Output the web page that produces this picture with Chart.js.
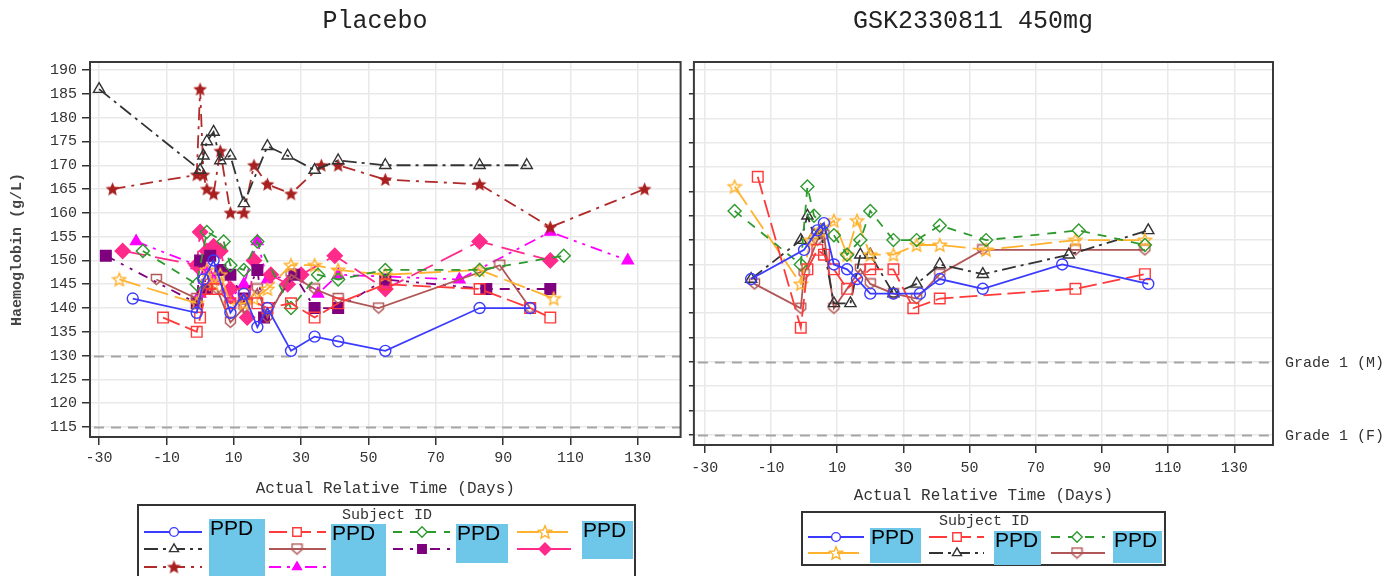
<!DOCTYPE html>
<html><head><meta charset="utf-8">
<script src="https://cdn.jsdelivr.net/npm/chart.js@4.4.1/dist/chart.umd.min.js"></script>
<style>
html,body{margin:0;padding:0;background:#fff;width:1393px;height:576px;overflow:hidden;}
canvas{position:absolute;top:0;}
#c1{left:0;} #c2{left:685px;}
</style></head><body>
<canvas id="c1" width="690" height="576"></canvas>
<canvas id="c2" width="708" height="576"></canvas>
<script>
// ---------- DATA ----------
const panelTitles = ['Placebo', 'GSK2330811 450mg'];
const xTickValues = [-30, -10, 10, 30, 50, 70, 90, 110, 130];
const yTickValues = [115,120,125,130,135,140,145,150,155,160,165,170,175,180,185,190];
const gradeValues = [130, 115];
const gradeLabels = ['Grade 1 (M)', 'Grade 1 (F)'];
const xTitle = 'Actual Relative Time (Days)';
const yTitle = 'Haemoglobin (g/L)';
const legendTitle = 'Subject ID';
const redactedLabel = 'PPD';

// Placebo subjects
const pBlueT   = [-20,-1,1,4,9,13,17,20,27,34,41,55,83,98];
const pBlueV   = [142,139,146,150,139,143,136,140,131,134,133,131,140,140];
const pRedT    = [-11,-1,0,2,5,9,13,17,20,27,34,41,55,83,98,104];
const pRedV    = [138,135,138,144,144,141,143,141,140,141,138,141,145,144,140,138];
const pGreenT  = [-17,-1,2,7,9,13,17,27,35,41,55,83,108];
const pGreenV  = [152,145,156,154,149,148,154,140,147,146,148,148,151];
const pOrangeT = [-24,-1,2,4,6,9,13,16,20,27,34,41,55,83,105];
const pOrangeV = [146,141,148,145,147,141,141,142,144,149,149,148,147,148,142];
const pBlackT  = [-30,0,1,2,4,6,9,13,20,26,34,41,55,83,97];
const pBlackV  = [186,169,172,175,177,171,172,162,174,172,169,171,170,170,170];
const pBrownT  = [-13,-1,2,5,9,13,17,20,27,34,41,53,89,98];
const pBrownV  = [146,142,145,144,137,140,144,138,147,144,142,140,149,140];
const pPurpleT = [-28,-1,0,2,3,6,9,13,17,19,28,34,41,55,85,104];
const pPurpleV = [151,141,150,144,151,148,147,142,148,138,147,140,140,146,144,144];
const pPinkT   = [-23,-1,0,2,4,6,9,14,16,21,26,30,40,55,83,104];
const pPinkV   = [152,149,156,152,153,152,144,138,150,147,145,147,151,144,154,150];
const pDarkRedT= [-26,-1,0,1,2,4,6,9,13,16,20,27,36,41,55,83,104,132];
const pDarkRedV= [165,168,186,168,165,164,173,160,160,170,166,164,170,170,167,166,157,165];
const pMagentaT= [-19,-1,0,2,4,9,13,17,20,28,35,41,77,104,127];
const pMagentaV= [154,149,143,148,146,142,145,154,146,147,143,147,146,156,150];

// GSK2330811 450mg subjects
const aBlueT   = [-16,0,4,6,9,13,16,20,27,35,41,54,78,104];
const aBlueV   = [147,153,157,158.5,150,149,147,144,144,144,147,145,150,146];
const aRedT    = [-14,-1,1,4,6,9,13,20,27,33,41,82,103];
const aRedV    = [168,137,149,153,152,149,145,149,149,141,143,145,148];
const aGreenT  = [-21,-1,1,3,9,13,17,20,27,34,41,55,83,103];
const aGreenV  = [161,150,166,160,156,152,155,161,155,155,158,155,157,154];
const aOrangeT = [-21,-1,2,5,9,13,16,20,27,34,41,55,82,103];
const aOrangeV = [166,146,155,157,159,152,159,152,152,154,154,153,155,155];
const aBlackT  = [-16,-1,1,3,5,9,14,17,20,27,34,41,54,80,104];
const aBlackV  = [147,155,160,156,157,142,142,152,152,144,146,150,148,152,157];
const aBrownT  = [-15,-1,0,4,6,9,17,20,27,34,41,54,82,103];
const aBrownV  = [146,141,148,155,156,141,149,146,144,143,148,153,153,153];

// ---------- STYLES ----------
const MONO = '"Liberation Mono", "DejaVu Sans Mono", monospace';
function pts(t, v){ return t.map((x,i)=>({x:x, y:v[i]})); }

function starCanvas(color, filled, size){
  const c = document.createElement('canvas'); c.width = c.height = size;
  const g = c.getContext('2d'); const cx=size/2, cy=size/2+0.5, R=size/2-1.2, r=R*0.45;
  g.beginPath();
  for(let i=0;i<10;i++){ const a=-Math.PI/2+i*Math.PI/5; const rr=i%2?r:R; g.lineTo(cx+rr*Math.cos(a), cy+rr*Math.sin(a)); }
  g.closePath();
  if(filled){ g.fillStyle=color; g.fill(); } else { g.strokeStyle=color; g.lineWidth=1.4; g.stroke(); }
  return c;
}
function shieldCanvas(color, size){
  const c = document.createElement('canvas'); c.width = c.height = size;
  const g = c.getContext('2d'); const m=1.5, s=size;
  g.beginPath(); g.moveTo(m,m); g.lineTo(s-m,m); g.lineTo(s-m,s*0.55); g.lineTo(s/2,s-m); g.lineTo(m,s*0.55); g.closePath();
  g.strokeStyle=color; g.lineWidth=1.4; g.stroke();
  return c;
}

const ST = {
  blue:    {color:'#3b3bff', dash:[], style:'circle', r:5.5, fill:false},
  red:     {color:'#ff3a3a', dash:[18,6], style:'rect', r:7.5, fill:false},
  green:   {color:'#2e9a2e', dash:[9,8], style:'rectRot', r:6.5, fill:false},
  orange:  {color:'#ffb22e', dash:[22,7], style:starCanvas('#ffb22e', false, 16), r:7, fill:false},
  black:   {color:'#333333', dash:[14,5,3,5], style:'triangle', r:6.5, fill:false},
  brown:   {color:'#b05656', dash:[], style:shieldCanvas('#b05656', 13), r:6.5, fill:false},
  purple:  {color:'#7f007f', dash:[10,7,3,7,3,7], style:'rect', r:7.5, fill:true},
  pink:    {color:'#ff2a8a', dash:[24,9], style:'rectRot', r:7.5, fill:true},
  darkred: {color:'#b02a2a', dash:[13,6,3,6], style:starCanvas('#a82020', true, 17), r:8, fill:true},
  magenta: {color:'#ff00ff', dash:[12,6,3,6,3,6], style:'triangle', r:6.5, fill:true}
};

function ds(key, t, v){
  const s = ST[key];
  return {
    label: key, data: pts(t, v), showLine: true,
    borderColor: s.color, backgroundColor: s.color, borderWidth: 1.8, borderDash: s.dash,
    pointStyle: s.style, pointRadius: s.r, pointHoverRadius: s.r,
    pointBorderColor: s.color, pointBackgroundColor: s.fill ? s.color : 'rgba(255,255,255,0)',
    pointBorderWidth: 1.4, tension: 0, _key: key
  };
}

const placeboSets = [
  ds('blue', pBlueT, pBlueV), ds('red', pRedT, pRedV), ds('green', pGreenT, pGreenV), ds('orange', pOrangeT, pOrangeV),
  ds('black', pBlackT, pBlackV), ds('brown', pBrownT, pBrownV), ds('purple', pPurpleT, pPurpleV), ds('pink', pPinkT, pPinkV),
  ds('darkred', pDarkRedT, pDarkRedV), ds('magenta', pMagentaT, pMagentaV)
];
const activeSets = [
  ds('blue', aBlueT, aBlueV), ds('red', aRedT, aRedV), ds('green', aGreenT, aGreenV),
  ds('orange', aOrangeT, aOrangeV), ds('black', aBlackT, aBlackV), ds('brown', aBrownT, aBrownV)
];

// ---------- PLUGINS ----------
function framePlugin(opts){
  return {
    id: 'frame'+opts.id,
    beforeDatasetsDraw(chart){
      const {ctx, chartArea:a, scales:{y}} = chart;
      ctx.save(); ctx.strokeStyle='#a6a6a6'; ctx.lineWidth=2; ctx.setLineDash([10,7]);
      gradeValues.forEach(v=>{ const py=Math.round(y.getPixelForValue(v))+0.5; ctx.beginPath(); ctx.moveTo(a.left+4,py); ctx.lineTo(a.right,py); ctx.stroke(); });
      ctx.restore();
    },
    afterDraw(chart){
      const {ctx, chartArea:a, scales:{y}} = chart;
      ctx.save();
      ctx.strokeStyle='#3a3a3a'; ctx.lineWidth=2; ctx.setLineDash([]);
      ctx.strokeRect(a.left, a.top, a.right-a.left, a.bottom-a.top);
      // panel title
      ctx.fillStyle='#222'; ctx.font='25px '+MONO; ctx.textAlign='center'; ctx.textBaseline='middle';
      ctx.fillText(opts.title, opts.titleX, 21);
      // grade labels
      if(opts.grades){
        ctx.font='15px '+MONO; ctx.textAlign='left'; ctx.fillStyle='#333';
        gradeValues.forEach((v,i)=>ctx.fillText(gradeLabels[i], 600, y.getPixelForValue(v)+1));
      }
      // legend
      const L = opts.legend;
      ctx.strokeStyle='#333'; ctx.lineWidth=2;
      ctx.strokeRect(L.box[0], L.box[1], L.box[2]-L.box[0], L.box[3]-L.box[1]);
      ctx.fillStyle='#333'; ctx.font='15px '+MONO; ctx.textAlign='center'; ctx.textBaseline='middle';
      ctx.fillText(legendTitle, L.titleX, L.titleY);
      L.entries.forEach(e=>{
        const d = chart.data.datasets[e.i]; const s = ST[d._key];
        const x0 = L.cols[e.c][0], x1 = L.cols[e.c][1], mx = L.cols[e.c][2], yy = L.rows[e.r];
        ctx.save(); ctx.strokeStyle=s.color; ctx.lineWidth=1.8; ctx.setLineDash(s.dash);
        ctx.beginPath(); ctx.moveTo(x0,yy); ctx.lineTo(x1,yy); ctx.stroke(); ctx.restore();
        ctx.save(); ctx.strokeStyle=s.color; ctx.fillStyle=s.fill? s.color : '#ffffff'; ctx.lineWidth=1.4; ctx.setLineDash([]);
        Chart.helpers.drawPoint(ctx, {pointStyle:s.style, radius:s.r*0.8, rotation:0, borderWidth:1.4}, mx, yy);
        ctx.restore();
      });
      L.boxes.forEach(b=>{
        ctx.fillStyle='#6ec6e9'; ctx.fillRect(b[0], b[1], b[2]-b[0], b[3]-b[1]);
        ctx.fillStyle='#000'; ctx.font='21px "Liberation Sans", Arial, sans-serif'; ctx.textAlign='left'; ctx.textBaseline='top';
        ctx.fillText(redactedLabel, b[0]+1, b[1]+0);
      });
      ctx.restore();
    }
  };
}

function scaleOpts(xmin, xmax, ymin, ymax, yWidth, xHeight, showY, xPad, xTitlePad){
  const font = {family: MONO, size: 15};
  return {
    x: {
      type:'linear', position:'bottom', min:xmin, max:xmax,
      afterBuildTicks: s => { s.ticks = xTickValues.map(v=>({value:v})); },
      afterFit: s => { s.height = xHeight; },
      grid: {color:'#e9e9e9', lineWidth:1.5, tickColor:'#333', tickLength:8, drawTicks:true},
      border: {display:false},
      ticks: {font, color:'#333', padding:xPad, maxRotation:0, autoSkip:false, callback: v => String(v)},
      title: {display:true, text:xTitle, font:{family:MONO, size:16}, color:'#333', padding:{top:0, bottom:xTitlePad}}
    },
    y: {
      type:'linear', min:ymin, max:ymax,
      afterBuildTicks: s => { s.ticks = yTickValues.map(v=>({value:v})); },
      afterFit: s => { s.width = yWidth; },
      grid: {color:'#e9e9e9', lineWidth:1.5, tickColor:'#333', tickLength: showY ? 8 : 5, drawTicks:true},
      border: {display:false},
      ticks: {display:showY, font, color:'#333', padding:5, autoSkip:false, callback: v => String(v)},
      title: {display:showY, text:yTitle, font:{family:MONO, size:15, weight:'bold'}, color:'#444', padding:{top:8, bottom:0}}
    }
  };
}

const common = {
  responsive:false, animation:false, devicePixelRatio:1,
  plugins:{legend:{display:false}, title:{display:false}, tooltip:{enabled:false}},
  events: []
};

new Chart(document.getElementById('c1'), {
  type:'scatter',
  data:{datasets: placeboSets},
  options: Object.assign({}, common, {
    layout:{padding:{top:62, right:5, bottom:76, left:0}},
    scales: scaleOpts(-32.7, 142.7, 112.9, 191.7, 90, 63, true, 4, 2)
  }),
  plugins:[framePlugin({id:1, title:panelTitles[0], titleX:375, grades:false, legend:{
    box:[138, 505, 635, 590], titleX:387, titleY:515,
    cols:[[144,202,174],[269,326,297],[393,450,422],[517,571,545]], rows:[532,549,567],
    entries:[{i:0,c:0,r:0},{i:1,c:1,r:0},{i:2,c:2,r:0},{i:3,c:3,r:0},{i:4,c:0,r:1},{i:5,c:1,r:1},{i:6,c:2,r:1},{i:7,c:3,r:1},{i:8,c:0,r:2},{i:9,c:1,r:2}],
    boxes:[[209,519,265,576],[331,524,386,576],[456,524,508,563],[582,521,633,559]]
  }})]
});

const o = 685;
new Chart(document.getElementById('c2'), {
  type:'scatter',
  data:{datasets: activeSets},
  options: Object.assign({}, common, {
    layout:{padding:{top:62, right:120, bottom:71, left:0}},
    scales: scaleOpts(-33.3, 141.7, 112.9, 191.6, 7, 60, false, 6, 0)
  }),
  plugins:[framePlugin({id:2, title:panelTitles[1], titleX:973-o, grades:true, legend:{
    box:[802-o, 512, 1165-o, 565], titleX:984-o, titleY:521,
    cols:[[808-o,864-o,836-o],[929-o,984-o,957-o],[1051-o,1105-o,1077-o]], rows:[537,553],
    entries:[{i:0,c:0,r:0},{i:1,c:1,r:0},{i:2,c:2,r:0},{i:3,c:0,r:1},{i:4,c:1,r:1},{i:5,c:2,r:1}],
    boxes:[[870-o,528,921-o,563],[994-o,531,1041-o,565],[1113-o,531,1162-o,563]]
  }})]
});
</script>
</body></html>
